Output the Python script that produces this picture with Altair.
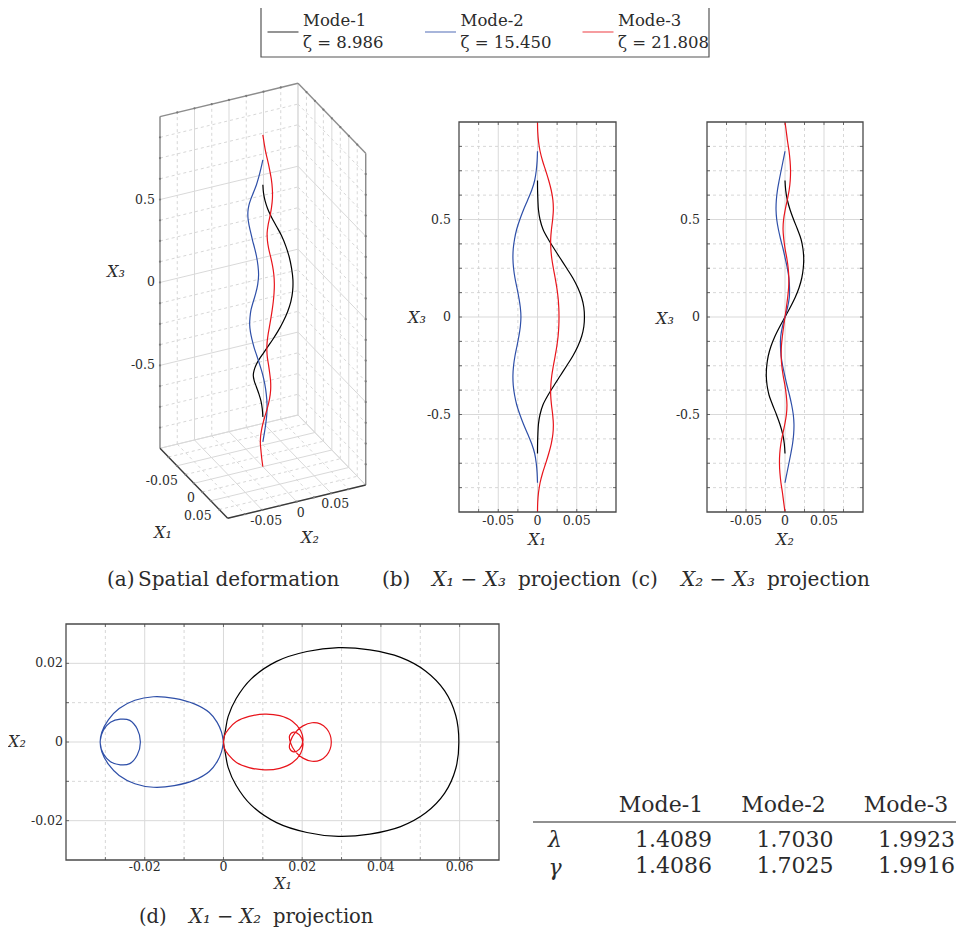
import altair as alt
import pandas as pd

OFF = 8
FONT = "DejaVu Serif"
TXT = "#2b2b2b"
GRID_MAJ = "#d9d9d9"
GRID_MIN = "#cdcdcd"
FRAME = "#4a4a4a"

# ---------------- data ----------------
MODES = ["Mode-1", "Mode-2", "Mode-3"]
ZETAS = ["ζ = 8.986", "ζ = 15.450", "ζ = 21.808"]
COLORS = ["#000000", "#2E4FA8", "#E8141B"]

M1_X3 = [0.70, 0.65, 0.60, 0.55, 0.50, 0.45, 0.40, 0.35, 0.30, 0.25, 0.20, 0.15, 0.10, 0.05, 0.00,
         -0.05, -0.10, -0.15, -0.20, -0.25, -0.30, -0.35, -0.40, -0.45, -0.50, -0.55, -0.60, -0.65, -0.70]
M1_X1 = [0.0000, 0.0001, 0.0005, 0.0012, 0.0032, 0.0070, 0.0135, 0.0212, 0.0292, 0.0372, 0.0450, 0.0514, 0.0562, 0.0590, 0.0598,
         0.0590, 0.0562, 0.0514, 0.0450, 0.0372, 0.0292, 0.0212, 0.0135, 0.0070, 0.0032, 0.0012, 0.0005, 0.0001, 0.0000]
M1_X2 = [0.0000, 0.0009, 0.0030, 0.0065, 0.0110, 0.0160, 0.0205, 0.0230, 0.0240, 0.0234, 0.0215, 0.0180, 0.0130, 0.0068, 0.0000,
         -0.0068, -0.0130, -0.0180, -0.0215, -0.0234, -0.0240, -0.0230, -0.0205, -0.0160, -0.0110, -0.0065, -0.0030, -0.0009, 0.0000]

M2_X3 = [0.85, 0.80, 0.75, 0.70, 0.65, 0.60, 0.55, 0.50, 0.45, 0.40, 0.35, 0.30, 0.25, 0.20, 0.15, 0.10, 0.05, 0.00,
         -0.05, -0.10, -0.15, -0.20, -0.25, -0.30, -0.35, -0.40, -0.45, -0.50, -0.55, -0.60, -0.65, -0.70, -0.75, -0.80, -0.85]
M2_X1 = [0.0000, -0.0005, -0.0016, -0.0036, -0.0074, -0.0125, -0.0178, -0.0225, -0.0265, -0.0292, -0.0309, -0.0313,
         -0.0305, -0.0287, -0.0262, -0.0238, -0.0219, -0.0211,
         -0.0219, -0.0238, -0.0262, -0.0287, -0.0305, -0.0313, -0.0309, -0.0292, -0.0265, -0.0225, -0.0178, -0.0125,
         -0.0074, -0.0036, -0.0016, -0.0005, 0.0000]
M2_X2 = [0.0000, -0.0025, -0.0050, -0.0075, -0.0097, -0.0111, -0.0115, -0.0106, -0.0085, -0.0057, -0.0025, 0.0003,
         0.0030, 0.0050, 0.0058, 0.0055, 0.0033, 0.0000,
         -0.0033, -0.0055, -0.0058, -0.0050, -0.0030, -0.0003, 0.0025, 0.0057, 0.0085, 0.0106, 0.0115, 0.0111,
         0.0097, 0.0075, 0.0050, 0.0025, 0.0000]

M3_X3 = [1.00, 0.95, 0.90, 0.85, 0.80, 0.75, 0.70, 0.65, 0.60, 0.55, 0.50, 0.45, 0.40, 0.35, 0.30, 0.25, 0.20,
         0.15, 0.10, 0.05, 0.00, -0.05, -0.10, -0.15, -0.20, -0.25, -0.30, -0.35, -0.40, -0.45, -0.50, -0.55,
         -0.60, -0.65, -0.70, -0.75, -0.80, -0.85, -0.90, -0.95, -1.00]
M3_X1 = [0.0000, 0.0003, 0.0013, 0.0033, 0.0065, 0.0105, 0.0143, 0.0175, 0.0196, 0.0202, 0.0193, 0.0178, 0.0168,
         0.0170, 0.0182, 0.0202, 0.0225, 0.0246, 0.0262, 0.0271, 0.0274,
         0.0271, 0.0262, 0.0246, 0.0225, 0.0202, 0.0182, 0.0170, 0.0168, 0.0178, 0.0193, 0.0202, 0.0196, 0.0175,
         0.0143, 0.0105, 0.0065, 0.0033, 0.0013, 0.0003, 0.0000]
M3_X2 = [0.0000, 0.0017, 0.0033, 0.0052, 0.0065, 0.0071, 0.0067, 0.0053, 0.0029, 0.0003, -0.0018, -0.0025, -0.0016,
         0.0001, 0.0024, 0.0041, 0.0049, 0.0046, 0.0034, 0.0018, 0.0000,
         -0.0018, -0.0034, -0.0046, -0.0049, -0.0041, -0.0024, -0.0001, 0.0016, 0.0025, 0.0018, -0.0003, -0.0029,
         -0.0053, -0.0067, -0.0071, -0.0065, -0.0052, -0.0033, -0.0017, 0.0000]

LAMBDA = ["1.4089", "1.7030", "1.9923"]
GAMMA = ["1.4086", "1.7025", "1.9916"]

# tick arrays
T12_MAJ = [-0.05, 0.0, 0.05]
T12_MIN = [-0.075, -0.025, 0.025, 0.075]
T12_EDGE = [-0.1, 0.1]
T3_MAJ = [-0.5, 0.0, 0.5]
T3_MIN = [-0.875, -0.75, -0.625, -0.375, -0.25, -0.125, 0.125, 0.25, 0.375, 0.625, 0.75, 0.875]
LAB12 = ["-0.05", "0", "0.05"]
LAB3 = ["-0.5", "0", "0.5"]
D_X_MAJ = [-0.02, 0.0, 0.02, 0.04, 0.06]
D_X_MIN = [-0.03, -0.01, 0.01, 0.03, 0.05]
D_X_LAB = ["-0.02", "0", "0.02", "0.04", "0.06"]
D_Y_MAJ = [-0.02, 0.0, 0.02]
D_Y_MIN = [-0.01, 0.01]
D_Y_LAB = ["-0.02", "0", "0.02"]

rows = []
for name, a1, a2, a3 in [(MODES[0], M1_X1, M1_X2, M1_X3), (MODES[1], M2_X1, M2_X2, M2_X3),
                         (MODES[2], M3_X1, M3_X2, M3_X3)]:
    for i, (p, q, r) in enumerate(zip(a1, a2, a3)):
        rows.append(dict(mode=name, i=i, X1=p, X2=q, X3=r))
curves = pd.DataFrame(rows)

COLOR = alt.Color("mode:N", scale=alt.Scale(domain=MODES, range=COLORS), legend=None)


def one():
    return pd.DataFrame({"k": [0]})


def text(s, x, y, size, align="center", italic=False, color=TXT, baseline="middle"):
    kw = dict(text=s, font=FONT, fontSize=size, align=align, baseline=baseline, color=color)
    if italic:
        kw["fontStyle"] = "italic"
    return alt.Chart(one()).mark_text(**kw).encode(x=alt.value(x - OFF), y=alt.value(y - OFF))


layers = []


# ---------------- 2D panels ----------------
def panel(xf, yf, xdom, ydom, box, xmaj, xmin, ymaj, ymin, xlv, xlt, ylv, ylt, xlab_y, ylab_x,
          xtitle, xt_pos, ytitle, yt_pos):
    L, T, R, B = box
    xs = alt.Scale(domain=xdom, range=[L - OFF, R - OFF], nice=False, zero=False)
    ys = alt.Scale(domain=ydom, range=[B - OFF, T - OFF], nice=False, zero=False)
    out = []
    for vals, dash, col, w in [(xmin, [3, 3], GRID_MIN, 0.8), (xmaj, None, GRID_MAJ, 1.0)]:
        kw = dict(color=col, strokeWidth=w)
        if dash:
            kw["strokeDash"] = dash
        out.append(alt.Chart(pd.DataFrame({"v": vals})).mark_rule(**kw).encode(
            x=alt.X("v:Q", scale=xs, axis=None), y=alt.value(T - OFF), y2=alt.value(B - OFF)))
    for vals, dash, col, w in [(ymin, [3, 3], GRID_MIN, 0.8), (ymaj, None, GRID_MAJ, 1.0)]:
        kw = dict(color=col, strokeWidth=w)
        if dash:
            kw["strokeDash"] = dash
        out.append(alt.Chart(pd.DataFrame({"v": vals})).mark_rule(**kw).encode(
            y=alt.Y("v:Q", scale=ys, axis=None), x=alt.value(L - OFF), x2=alt.value(R - OFF)))
    allx = sorted(xmaj + xmin)
    ally = sorted(ymaj + ymin)
    for ypix, d in [(B, -3), (T, 3)]:
        out.append(alt.Chart(pd.DataFrame({"v": allx})).mark_rule(color=FRAME, strokeWidth=0.8).encode(
            x=alt.X("v:Q", scale=xs, axis=None), y=alt.value(ypix - OFF), y2=alt.value(ypix - OFF + d)))
    for xpix, d in [(L, 3), (R, -3)]:
        out.append(alt.Chart(pd.DataFrame({"v": ally})).mark_rule(color=FRAME, strokeWidth=0.8).encode(
            y=alt.Y("v:Q", scale=ys, axis=None), x=alt.value(xpix - OFF), x2=alt.value(xpix - OFF + d)))
    out.append(alt.Chart(curves).mark_line(interpolate="catmull-rom", strokeWidth=1.2).encode(
        x=alt.X(f"{xf}:Q", scale=xs, axis=None), y=alt.Y(f"{yf}:Q", scale=ys, axis=None),
        color=COLOR, order="i:Q"))
    out.append(alt.Chart(one()).mark_rect(fillOpacity=0, stroke=FRAME, strokeWidth=1.3).encode(
        x=alt.value(L - OFF), x2=alt.value(R - OFF), y=alt.value(T - OFF), y2=alt.value(B - OFF)))
    out.append(alt.Chart(pd.DataFrame({"v": xlv, "t": xlt})).mark_text(
        font=FONT, fontSize=12.5, color=TXT, align="center", baseline="middle").encode(
        x=alt.X("v:Q", scale=xs, axis=None), y=alt.value(xlab_y - OFF), text="t:N"))
    out.append(alt.Chart(pd.DataFrame({"v": ylv, "t": ylt})).mark_text(
        font=FONT, fontSize=12.5, color=TXT, align="right", baseline="middle").encode(
        y=alt.Y("v:Q", scale=ys, axis=None), x=alt.value(ylab_x - OFF), text="t:N"))
    out.append(text(xtitle, xt_pos[0], xt_pos[1], 16, italic=True))
    out.append(text(ytitle, yt_pos[0], yt_pos[1], 16, italic=True))
    return out


layers += panel("X1", "X3", [-0.1, 0.1], [-1, 1], (459, 122, 616, 512),
                T12_MAJ, T12_MIN, T3_MAJ, T3_MIN, T12_MAJ, LAB12, T3_MAJ, LAB3, 521, 451,
                "X₁", (537, 540), "X₃", (417, 318))
layers += panel("X2", "X3", [-0.1, 0.1], [-1, 1], (707, 122, 863, 512),
                T12_MAJ, T12_MIN, T3_MAJ, T3_MIN, T12_MAJ, LAB12, T3_MAJ, LAB3, 521, 700,
                "X₂", (785, 540), "X₃", (665, 319))
layers += panel("X1", "X2", [-0.04, 0.07], [-0.03, 0.03], (66, 624, 499, 860),
                D_X_MAJ, D_X_MIN, D_Y_MAJ, D_Y_MIN, D_X_MAJ, D_X_LAB, D_Y_MAJ, D_Y_LAB, 867, 63,
                "X₁", (283, 884), "X₂", (17, 742))

# ---------------- 3D panel ----------------
OX, OY = 160.0, 448.3
UX, UY = 67.7, 70.0
VX, VY = 138.0, -33.3
WY = -331.7
PU = "((datum.X1 + 0.1) / 0.2)"
PV = "((datum.X2 + 0.1) / 0.2)"
PW = "((datum.X3 + 1) / 2)"
XS3 = alt.Scale(domain=[0, 100], range=[OX - OFF, OX - OFF + 100], nice=False, zero=False)
YS3 = alt.Scale(domain=[0, 100], range=[OY - OFF, OY - OFF + 100], nice=False, zero=False)


def proj(ch):
    return ch.transform_calculate(
        px=f"{PU} * {UX} + {PV} * {VX}",
        py=f"{PU} * {UY} + {PV} * ({VY}) + {PW} * ({WY})")


def seg_df(segs):
    r = []
    for k, (p, q) in enumerate(segs):
        r.append(dict(seg=k, e=0, X1=p[0], X2=p[1], X3=p[2]))
        r.append(dict(seg=k, e=1, X1=q[0], X2=q[1], X3=q[2]))
    return pd.DataFrame(r)


def grid_segs(t12, t3):
    s = []
    for t in t12:
        s.append(((-0.1, t, -1), (-0.1, t, 1)))      # back wall verticals (X2)
        s.append(((t, 0.1, -1), (t, 0.1, 1)))        # right wall verticals (X1)
        s.append(((t, -0.1, -1), (t, 0.1, -1)))      # floor lines const X1
        s.append(((-0.1, t, -1), (0.1, t, -1)))      # floor lines const X2
    for z in t3:
        s.append(((-0.1, -0.1, z), (-0.1, 0.1, z)))  # back wall
        s.append(((-0.1, 0.1, z), (0.1, 0.1, z)))    # right wall
    return s


def seg_layer(segs, color, width, dash=None):
    kw = dict(color=color, strokeWidth=width)
    if dash:
        kw["strokeDash"] = dash
    return proj(alt.Chart(seg_df(segs)).mark_line(**kw)).encode(
        x=alt.X("px:Q", scale=XS3, axis=None), y=alt.Y("py:Q", scale=YS3, axis=None),
        detail="seg:N", order="e:Q")


layers.append(seg_layer(grid_segs(T12_MIN, T3_MIN), GRID_MIN, 0.8, [3, 3]))
layers.append(seg_layer(grid_segs(T12_MAJ + T12_EDGE, T3_MAJ + [-1.0]), GRID_MAJ, 1.0))
frame_edges = [((-0.1, -0.1, -1), (-0.1, -0.1, 1)), ((-0.1, -0.1, 1), (-0.1, 0.1, 1)),
               ((-0.1, 0.1, 1), (0.1, 0.1, 1)), ((0.1, 0.1, 1), (0.1, 0.1, -1))]
layers.append(seg_layer(frame_edges, "#8c8c8c", 1.4))
axis_edges = [((-0.1, -0.1, -1), (0.1, -0.1, -1)), ((0.1, -0.1, -1), (0.1, 0.1, -1))]
layers.append(seg_layer(axis_edges, "#3a3a3a", 1.4))

tick_rows = []
for t in T12_MAJ + T12_MIN:
    tick_rows += [(-0.1, t, 1), (t, 0.1, 1), (t, -0.1, -1), (0.1, t, -1)]
for z in T3_MAJ + T3_MIN:
    tick_rows += [(-0.1, -0.1, z), (0.1, 0.1, z)]
tick_df = pd.DataFrame(tick_rows, columns=["X1", "X2", "X3"])
layers.append(proj(alt.Chart(tick_df).mark_point(filled=True, size=5, color="#7a7a7a", opacity=1)).encode(
    x=alt.X("px:Q", scale=XS3, axis=None), y=alt.Y("py:Q", scale=YS3, axis=None)))

layers.append(proj(alt.Chart(curves).mark_line(interpolate="catmull-rom", strokeWidth=1.2)).encode(
    x=alt.X("px:Q", scale=XS3, axis=None), y=alt.Y("py:Q", scale=YS3, axis=None),
    color=COLOR, order="i:Q"))

lab3 = pd.DataFrame({"X1": [-0.1] * 3, "X2": [-0.1] * 3, "X3": T3_MAJ, "t": LAB3})
layers.append(proj(alt.Chart(lab3).mark_text(font=FONT, fontSize=12.5, color=TXT, align="right",
                                             baseline="middle", dx=-5)).encode(
    x=alt.X("px:Q", scale=XS3, axis=None), y=alt.Y("py:Q", scale=YS3, axis=None), text="t:N"))
lab1 = pd.DataFrame({"X1": T12_MAJ, "X2": [-0.1] * 3, "X3": [-1.0] * 3, "t": LAB12})
layers.append(proj(alt.Chart(lab1).mark_text(font=FONT, fontSize=12.5, color=TXT, align="right",
                                             baseline="middle", dx=1, dy=15)).encode(
    x=alt.X("px:Q", scale=XS3, axis=None), y=alt.Y("py:Q", scale=YS3, axis=None), text="t:N"))
lab2 = pd.DataFrame({"X1": [0.1] * 3, "X2": T12_MAJ, "X3": [-1.0] * 3, "t": LAB12})
layers.append(proj(alt.Chart(lab2).mark_text(font=FONT, fontSize=12.5, color=TXT, align="center",
                                             baseline="middle", dx=4, dy=11)).encode(
    x=alt.X("px:Q", scale=XS3, axis=None), y=alt.Y("py:Q", scale=YS3, axis=None), text="t:N"))
layers.append(text("X₃", 116, 272, 16, italic=True))
layers.append(text("X₁", 163, 533, 16, italic=True))
layers.append(text("X₂", 310, 538, 16, italic=True))

# ---------------- captions ----------------
CAP = 20
layers.append(text("(a)", 107, 580, CAP, align="left"))
layers.append(text("Spatial deformation", 138, 580, CAP, align="left"))
layers.append(text("(b)", 382, 580, CAP, align="left"))
layers.append(text("X₁ − X₃", 432, 580, CAP, align="left", italic=True))
layers.append(text("projection", 518, 580, CAP, align="left"))
layers.append(text("(c)", 631, 580, CAP, align="left"))
layers.append(text("X₂ − X₃", 681, 580, CAP, align="left", italic=True))
layers.append(text("projection", 767, 580, CAP, align="left"))
layers.append(text("(d)", 139, 917, 19.5, align="left"))
layers.append(text("X₁ − X₂", 189, 917, 19.5, align="left", italic=True))
layers.append(text("projection", 273, 917, 19.5, align="left"))

# ---------------- legend ----------------
leg = pd.DataFrame({"mode": MODES, "zeta": ZETAS})
LEGX = alt.Scale(domain=MODES, type="point", padding=0, range=[283 - OFF, 598 - OFF])
layers.append(alt.Chart(one()).mark_rect(fillOpacity=0, stroke="#555555", strokeWidth=1.2).encode(
    x=alt.value(261 - OFF), x2=alt.value(709 - OFF), y=alt.value(4 - OFF), y2=alt.value(57 - OFF)))
layers.append(alt.Chart(leg).mark_tick(orient="horizontal", size=31, thickness=1.2).encode(
    x=alt.X("mode:N", scale=LEGX, axis=None), y=alt.value(32 - OFF), color=COLOR))
layers.append(alt.Chart(leg).mark_text(font=FONT, fontSize=16.5, color=TXT, align="left",
                                       baseline="middle", dx=20).encode(
    x=alt.X("mode:N", scale=LEGX, axis=None), y=alt.value(21 - OFF), text="mode:N"))
layers.append(alt.Chart(leg).mark_text(font=FONT, fontSize=16.5, color=TXT, align="left",
                                       baseline="middle", dx=20).encode(
    x=alt.X("mode:N", scale=LEGX, axis=None), y=alt.value(43 - OFF), text="zeta:N"))

# ---------------- table ----------------
tab = pd.DataFrame({"mode": MODES, "lam": LAMBDA, "gam": GAMMA})
HX = alt.Scale(domain=MODES, type="point", padding=0, range=[661 - OFF, 906 - OFF])
VXS = alt.Scale(domain=MODES, type="point", padding=0, range=[712 - OFF, 955 - OFF])
TS = 22
layers.append(alt.Chart(tab).mark_text(font=FONT, fontSize=TS, color=TXT, align="center",
                                       baseline="middle").encode(
    x=alt.X("mode:N", scale=HX, axis=None), y=alt.value(805 - OFF), text="mode:N"))
layers.append(alt.Chart(tab).mark_text(font=FONT, fontSize=TS, color=TXT, align="right",
                                       baseline="middle").encode(
    x=alt.X("mode:N", scale=VXS, axis=None), y=alt.value(840 - OFF), text="lam:N"))
layers.append(alt.Chart(tab).mark_text(font=FONT, fontSize=TS, color=TXT, align="right",
                                       baseline="middle").encode(
    x=alt.X("mode:N", scale=VXS, axis=None), y=alt.value(866 - OFF), text="gam:N"))
layers.append(alt.Chart(one()).mark_rule(color="#222222", strokeWidth=1.2).encode(
    x=alt.value(533 - OFF), x2=alt.value(956 - OFF), y=alt.value(822 - OFF)))
layers.append(text("λ", 555, 840, TS, italic=True))
layers.append(text("γ", 555, 868, TS, italic=True))

chart = alt.layer(*layers).resolve_scale(x="independent", y="independent").properties(
    width=948, height=924, padding=0, autosize=alt.AutoSizeParams(type="none"),
    background="white").configure_view(stroke=None)

chart.save("out.html", embed_options={"renderer": "svg", "actions": False})
